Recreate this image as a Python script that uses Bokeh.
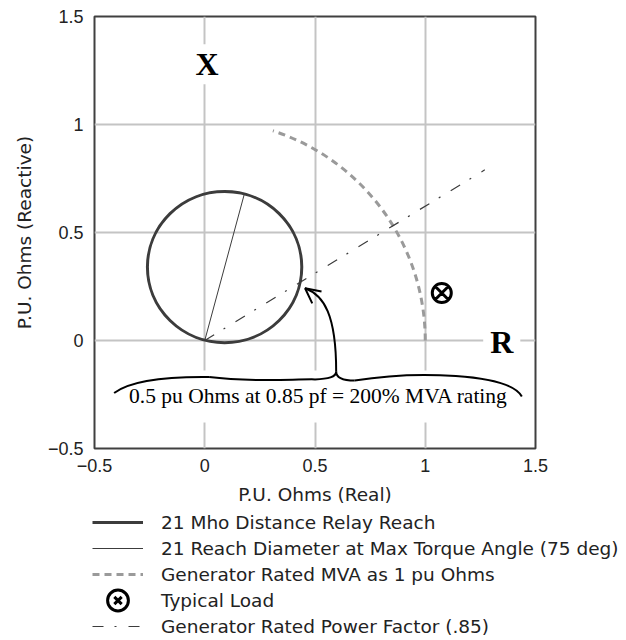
import math
from bokeh.plotting import figure
from bokeh.models import (FixedTicker, Legend, LegendItem, Label, Arrow, OpenHead, Range1d)
from bokeh.embed import file_html
from bokeh.resources import INLINE

# ---------------- data ----------------
tick_values = [-0.5, 0.0, 0.5, 1.0, 1.5]
tick_labels = ["\u22120.5", "0", "0.5", "1", "1.5"]

# 21 Mho distance relay reach circle (diameter along 75 deg)
mho_center_x = [0.09]
mho_center_y = [0.34]
mho_diameter = [0.70]

# Reach diameter at max torque angle
reach_x = [0.0, 0.18]
reach_y = [0.0, 0.68]

# Generator rated MVA as 1 pu ohms (arc of radius 1)
mva_center_x = [0.0]
mva_center_y = [0.0]
mva_radius = [1.0]
mva_start_deg = [0.0]
mva_end_deg = [72.0]

# Typical load
load_x = [1.075]
load_y = [0.22]

# Generator rated power factor (.85) line
pf_x = [0.0, 1.27]
pf_y = [0.0, 0.79]

legend_labels = [
    "21 Mho Distance Relay Reach",
    "21 Reach Diameter at Max Torque Angle (75 deg)",
    "Generator Rated MVA as 1 pu Ohms",
    "Typical Load",
    "Generator Rated Power Factor (.85)",
]

# annotation (curly brace + arrow) path, bezier segments
brace_x0 = [0.596, 0.50, 0.02, 0.596, 0.68, 0.596]
brace_y0 = [-0.143, -0.180, -0.169, -0.143, -0.185, -0.143]
brace_x1 = [0.50, 0.02, -0.411, 0.68, 1.438, 0.455]
brace_y1 = [-0.180, -0.169, -0.243, -0.185, -0.259, 0.242]
brace_cx0 = [0.596, 0.40, -0.15, 0.596, 0.95, 0.596]
brace_cy0 = [-0.170, -0.178, -0.167, -0.172, -0.14, 0.12]
brace_cx1 = [0.56, 0.22, -0.33, 0.63, 1.38, 0.54]
brace_cy1 = [-0.178, -0.195, -0.18, -0.185, -0.15, 0.21]

note_text = "0.5 pu Ohms at 0.85 pf = 200% MVA rating"
note_xy = (0.516, -0.259)
x_label_xy = (0.01, 1.279)
r_label_xy = (1.347, -0.009)
arrow_from = (0.52, 0.19)
arrow_to = (0.455, 0.242)

# ---------------- main figure ----------------
p = figure(width=626, height=509,
           x_range=Range1d(-0.5, 1.5), y_range=Range1d(-0.5, 1.5),
           output_backend="svg", toolbar_location=None,
           min_border_left=94, min_border_right=91,
           min_border_top=16, min_border_bottom=61,
           background_fill_color="white", border_fill_color="white")

p.outline_line_color = "#404040"
p.outline_line_width = 2

for ax in (p.xaxis, p.yaxis):
    ax.ticker = FixedTicker(ticks=tick_values)
    ax.major_label_overrides = dict(zip(tick_values, tick_labels))
    ax.axis_line_color = None
    ax.major_tick_line_color = None
    ax.minor_tick_line_color = None
    ax.major_tick_out = 0
    ax.major_tick_in = 0
    ax.major_label_text_font = "Liberation Sans"
    ax.major_label_text_font_size = "18px"
    ax.major_label_text_color = "#222222"
    ax.axis_label_text_font = "DejaVu Sans"
    ax.axis_label_text_font_size = "18.5px"
    ax.axis_label_text_font_style = "normal"
    ax.axis_label_text_color = "#222222"

p.xaxis.axis_label = "P.U. Ohms (Real)"
p.yaxis.axis_label = "P.U. Ohms (Reactive)"
p.xaxis.major_label_standoff = 10
p.yaxis.major_label_standoff = 11
p.xaxis.axis_label_standoff = 9
p.yaxis.axis_label_standoff = 10

p.grid.grid_line_color = "#c4c4c4"
p.grid.grid_line_width = 2

dark = "#3c3c3c"
mho_style = dict(line_color=dark, line_width=3)
reach_style = dict(line_color=dark, line_width=1)
mva_style = dict(line_color="#9a9a9a", line_width=3, line_dash="7 5")
pf_style = dict(line_color=dark, line_width=1.2, line_dash="11 11 2 12")
load_style = dict(line_color="black", line_width=3)

# Mho circle
p.ellipse(x=mho_center_x, y=mho_center_y, width=mho_diameter, height=mho_diameter,
          fill_color=None, **mho_style)
# reach diameter
p.line(reach_x, reach_y, **reach_style)
# MVA arc
p.arc(x=mva_center_x, y=mva_center_y, radius=mva_radius,
      start_angle=[math.radians(a) for a in mva_start_deg],
      end_angle=[math.radians(a) for a in mva_end_deg], **mva_style)
# power factor line
p.line(pf_x, pf_y, **pf_style)
# typical load
p.scatter(load_x, load_y, marker="circle_x", size=19, fill_color=None, **load_style)

# labels
p.add_layout(Label(x=x_label_xy[0], y=x_label_xy[1], text="X", text_font="Liberation Serif",
                   text_font_style="bold", text_font_size="32px", text_align="center",
                   text_color="black", text_baseline="middle",
                   background_fill_color="white", padding=2))
p.add_layout(Label(x=r_label_xy[0], y=r_label_xy[1], text="R", text_font="Liberation Serif",
                   text_font_style="bold", text_font_size="32px", text_align="center",
                   text_color="black", text_baseline="middle",
                   background_fill_color="white", padding=(7, 2)))
p.add_layout(Label(x=note_xy[0], y=note_xy[1], text=note_text, text_font="Liberation Serif",
                   text_font_size="21.5px", text_align="center", text_baseline="middle",
                   text_color="black", background_fill_color="white", padding=(8, 14)))

# curly brace + arrow
brace = p.bezier(x0=brace_x0, y0=brace_y0, x1=brace_x1, y1=brace_y1,
                 cx0=brace_cx0, cy0=brace_cy0, cx1=brace_cx1, cy1=brace_cy1,
                 line_color="black", line_width=2)
brace.level = "overlay"
p.add_layout(Arrow(end=OpenHead(size=15, line_width=2, line_color="black"),
                   x_start=arrow_from[0], y_start=arrow_from[1],
                   x_end=arrow_to[0], y_end=arrow_to[1], line_alpha=0))

# ---------------- legend strip (separate root, no frame alignment) ----------------
lf = figure(width=626, height=131, x_range=Range1d(0, 1), y_range=Range1d(0, 1),
            output_backend="svg", toolbar_location=None,
            x_axis_location=None, y_axis_location=None,
            min_border_left=0, min_border_right=0, min_border_top=0, min_border_bottom=0,
            background_fill_color="white", border_fill_color="white")
lf.grid.visible = False
lf.outline_line_color = None

nan = [float("nan")]
leg_mho = lf.line(nan, nan, **mho_style)
leg_reach = lf.line(nan, nan, **reach_style)
leg_mva = lf.line(nan, nan, **mva_style)
leg_load_c = lf.ellipse(nan, nan, width=19, height=19, width_units="screen",
                        height_units="screen", fill_color=None, **load_style)
leg_load_x = lf.scatter(nan, nan, marker="x", size=14, **load_style)
leg_pf = lf.line(nan, nan, **pf_style)

legend = Legend(items=[
    LegendItem(label=legend_labels[0], renderers=[leg_mho]),
    LegendItem(label=legend_labels[1], renderers=[leg_reach]),
    LegendItem(label=legend_labels[2], renderers=[leg_mva]),
    LegendItem(label=legend_labels[3], renderers=[leg_load_c, leg_load_x]),
    LegendItem(label=legend_labels[4], renderers=[leg_pf]),
], location=(92, 1), orientation="vertical", glyph_width=51, glyph_height=26,
    spacing=0, label_standoff=18, padding=0, margin=0,
    border_line_color=None, background_fill_alpha=0,
    label_text_font="DejaVu Sans", label_text_font_size="18.5px",
    label_text_color="#222222")
lf.add_layout(legend)

open("out.html", "w").write(file_html([p, lf], INLINE))
